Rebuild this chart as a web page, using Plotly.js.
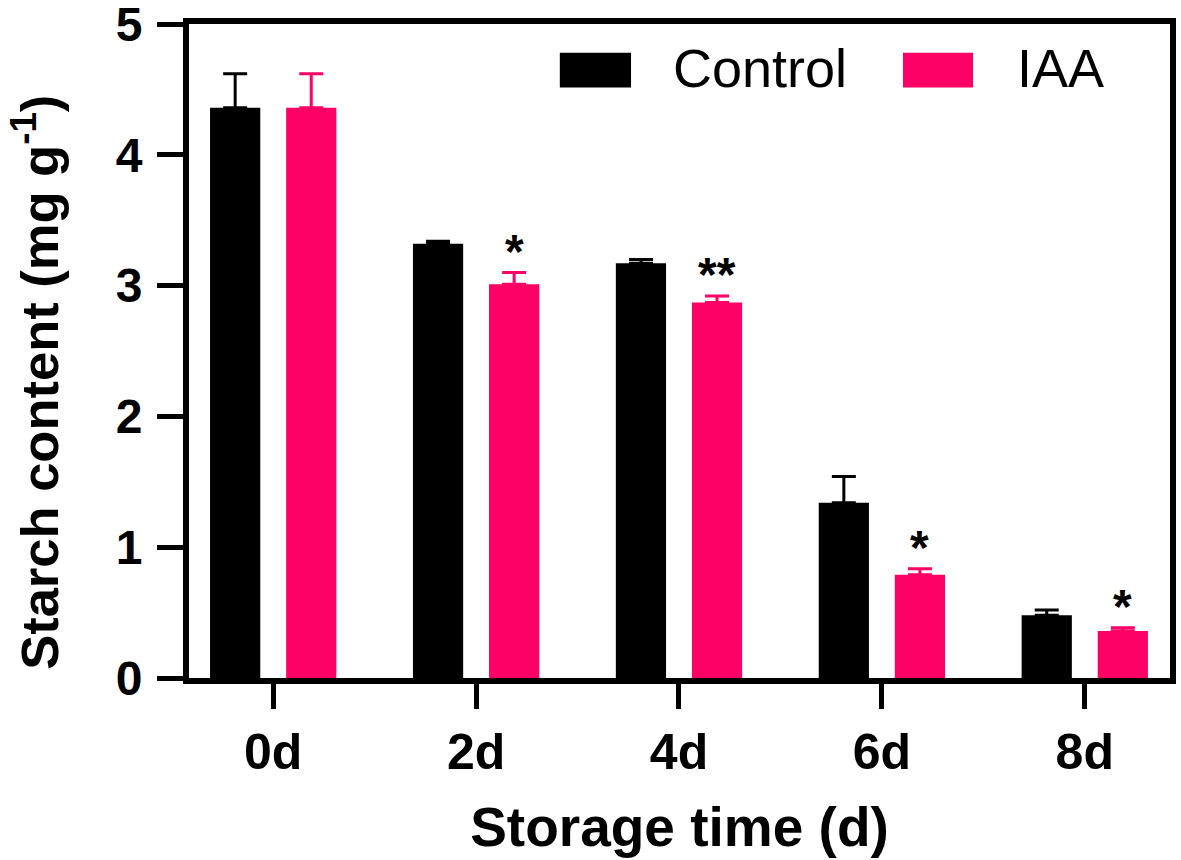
<!DOCTYPE html>
<html>
<head>
<meta charset="utf-8">
<script src="https://cdn.plot.ly/plotly-3.0.1.min.js"></script>
<style>
  html, body { margin: 0; padding: 0; background: #ffffff; }
  #chart { width: 1181px; height: 860px; }
</style>
</head>
<body>
<div id="chart"></div>
<script>
var categories = ['0d', '2d', '4d', '6d', '8d'];
var controlMean = [4.36, 3.32, 3.17, 1.34, 0.48];
var controlErr = [0.26, 0.02, 0.03, 0.20, 0.04];
var iaaMean = [4.36, 3.01, 2.87, 0.79, 0.36];
var iaaErr = [0.26, 0.09, 0.05, 0.045, 0.025];
var iaaSig = ['', '*', '**', '*', '*'];

var black = '#000000';
var pink = '#ff0066';
var fontFamily = '"Liberation Sans", Arial, sans-serif';

var zeros = categories.map(function () { return 0; });

var data = [
    {
        type: 'bar',
        name: 'Control',
        x: categories,
        y: controlMean,
        marker: { color: black, line: { width: 0 } },
        error_y: {
            type: 'data', symmetric: false, array: controlErr, arrayminus: zeros,
            color: black, thickness: 3, width: 12
        }
    },
    {
        type: 'bar',
        name: 'IAA',
        x: categories,
        y: iaaMean,
        marker: { color: pink, line: { width: 0 } },
        error_y: {
            type: 'data', symmetric: false, array: iaaErr, arrayminus: zeros,
            color: pink, thickness: 3, width: 12
        }
    }
];

// Offset of the IAA bar centre from the category centre (in category units).
var groupOffset = 0.187;

var annotations = [];
for (var i = 0; i < categories.length; i++) {
    if (!iaaSig[i]) continue;
    annotations.push({
        x: i + groupOffset,
        y: iaaMean[i] + iaaErr[i],
        xref: 'x', yref: 'y',
        text: iaaSig[i],
        showarrow: false,
        yanchor: 'bottom',
        yshift: -7,
        font: { family: fontFamily, size: 48, color: black, weight: 'bold' }
    });
}

// Legend drawn by hand so the swatches can be as large as in the figure.
var legendItems = [
    { label: 'Control', color: black, x0: 0.378, x1: 0.4506, tx: 0.4910 },
    { label: 'IAA', color: pink, x0: 0.7278, x1: 0.7992, tx: 0.8420 }
];
var shapes = [];
legendItems.forEach(function (item) {
    shapes.push({
        type: 'rect', xref: 'paper', yref: 'paper',
        x0: item.x0, x1: item.x1, y0: 0.903, y1: 0.956,
        fillcolor: item.color, line: { width: 0 }
    });
    annotations.push({
        x: item.tx, y: 0.932, xref: 'paper', yref: 'paper',
        xanchor: 'left', yanchor: 'middle',
        text: item.label, showarrow: false,
        font: { family: fontFamily, size: 54, color: black }
    });
});

// Y axis title placed by hand (it sits a little below the plot centre in the figure).
annotations.push({
    x: -0.1555, y: 0.452, xref: 'paper', yref: 'paper',
    xanchor: 'center', yanchor: 'middle',
    textangle: -90,
    text: 'Starch content (mg g<sup>-1</sup>)',
    showarrow: false,
    font: { family: fontFamily, size: 52.5, color: black, weight: 'bold' }
});

var layout = {
    width: 1181,
    height: 860,
    paper_bgcolor: '#ffffff',
    plot_bgcolor: '#ffffff',
    margin: { l: 189, r: 11, t: 24, b: 182 },
    showlegend: false,
    barmode: 'group',
    bargap: 0.25,
    bargroupgap: 0.34,
    font: { family: fontFamily, color: black },
    xaxis: {
        type: 'category',
        range: [-0.415, 4.42],
        showline: true, linecolor: black, linewidth: 6, mirror: true,
        ticks: 'outside', ticklen: 25, tickwidth: 5, tickcolor: black,
        tickfont: { family: fontFamily, size: 50, color: black, weight: 'bold' },
        ticklabelstandoff: 0,
        showgrid: false, zeroline: false, fixedrange: true,
        title: {
            text: 'Storage time (d)',
            font: { family: fontFamily, size: 55, color: black, weight: 'bold' },
            standoff: 30
        }
    },
    yaxis: {
        range: [0, 5],
        tickvals: [0, 1, 2, 3, 4, 5],
        ticktext: ['0', '1', '2', '3', '4', '5'],
        showline: true, linecolor: black, linewidth: 6, mirror: true,
        ticks: 'outside', ticklen: 26, tickwidth: 5, tickcolor: black,
        tickfont: { family: fontFamily, size: 48, color: black, weight: 'bold' },
        ticklabelstandoff: 5,
        ticklabeloverflow: 'allow',
        showgrid: false, zeroline: false, fixedrange: true
    },
    annotations: annotations,
    shapes: shapes
};

Plotly.newPlot('chart', data, layout, { displayModeBar: false, staticPlot: true });
</script>
</body>
</html>
